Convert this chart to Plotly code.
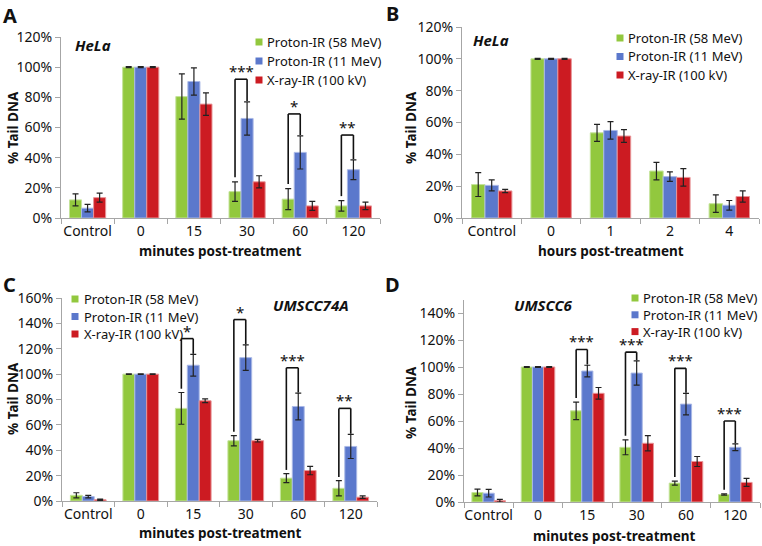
import plotly.graph_objects as go

# ---- data (% Tail DNA) ----
series_names = ["Proton-IR (58 MeV)", "Proton-IR (11 MeV)", "X-ray-IR (100 kV)"]
colors = ["#92c83e", "#5b78cc", "#cc1b22"]
edge_colors = ["#c4e39a", "#a9b8e6", "#e89497"]

min_cats = ["Control", "0", "15", "30", "60", "120"]
hour_cats = ["Control", "0", "1", "2", "4"]

# A: HeLa, minutes
a_green = [12, 100, 80.5, 17.5, 12.5, 8]
a_green_err = [4, 0.4, 15, 6.5, 7, 3.5]
a_blue = [6.5, 100, 90.5, 66, 43.5, 32]
a_blue_err = [2.5, 0.4, 9, 11, 11, 6.5]
a_red = [13.5, 100, 75.5, 24, 8, 8]
a_red_err = [3, 0.4, 7.5, 4, 3, 2.5]
a_sig = [(3, 92, "***"), (4, 69, "*"), (5, 55, "**")]

# B: HeLa, hours
b_green = [21, 100, 53.5, 29.5, 9]
b_green_err = [7.5, 0.3, 5.3, 5.5, 5.5]
b_blue = [20.5, 100, 55, 26, 8]
b_blue_err = [3.5, 0.3, 5.5, 3, 3]
b_red = [17, 100, 51.5, 25.5, 13.5]
b_red_err = [1, 0.3, 4, 5.5, 3.5]
b_sig = []

# C: UMSCC74A, minutes
c_green = [4.5, 100, 73, 47.5, 18, 10]
c_green_err = [2, 0.3, 12.5, 4, 3.5, 6]
c_blue = [3.5, 100, 107, 113, 74.5, 43]
c_blue_err = [1, 0.3, 8.5, 10, 10.5, 9.5]
c_red = [1, 100, 79, 47.5, 24, 3]
c_red_err = [0.5, 0.3, 1.5, 1, 3.3, 1]
c_sig = [(2, 128, "*"), (3, 143, "*"), (4, 105, "***"), (5, 73, "**")]

# D: UMSCC6, minutes
d_green = [7, 100, 67.5, 40.5, 14, 5.5]
d_green_err = [2.5, 0.3, 6.5, 5.5, 1.5, 0.5]
d_blue = [6.5, 100, 97, 95.5, 72.5, 40.5]
d_blue_err = [2.8, 0.3, 4.3, 9, 8, 2.5]
d_red = [1, 100, 80.5, 43.5, 30, 14.5]
d_red_err = [1, 0.3, 4.3, 5.7, 3.7, 3]
d_sig = [(2, 113, "***"), (3, 111, "***"), (4, 99, "***"), (5, 60, "***")]

W, H = 762, 546
FONT = "Noto Sans"
BARGAP = 0.32


def px(x):
    return x / W


def py(y):
    return 1 - y / H


def label(text, x, y, size, xanchor="center", angle=0):
    """Paper-positioned text, given in pixels from the top-left corner."""
    return dict(xref="paper", yref="paper", x=px(x), y=py(y), text=text, showarrow=False,
                xanchor=xanchor, yanchor="middle", textangle=angle,
                font=dict(family=FONT, size=size, color="#111"))


# legend placement per panel: marker centre x, text left x, first row y, row step (pixels)
panels = [
    dict(cats=min_cats, vals=[a_green, a_blue, a_red], errs=[a_green_err, a_blue_err, a_red_err], sig=a_sig,
         ymax=120, dom_x=[61, 380], dom_y=[218, 37], legend=(259, 265, 42, 19)),
    dict(cats=hour_cats, vals=[b_green, b_blue, b_red], errs=[b_green_err, b_blue_err, b_red_err], sig=b_sig,
         ymax=120, dom_x=[462, 759], dom_y=[218, 27], legend=(620, 626, 38, 18.5)),
    dict(cats=min_cats, vals=[c_green, c_blue, c_red], errs=[c_green_err, c_blue_err, c_red_err], sig=c_sig,
         ymax=160, dom_x=[62, 377], dom_y=[501, 298], legend=(75, 82, 299, 17.5)),
    dict(cats=min_cats, vals=[d_green, d_blue, d_red], errs=[d_green_err, d_blue_err, d_red_err], sig=d_sig,
         ymax=150, dom_x=[464, 760], dom_y=[502, 299.5], legend=(635, 641, 298, 16.8)),
]

fig = go.Figure()
layout = {}
shapes = []
annotations = []
w = (1 - BARGAP) / 3

for p_i, p in enumerate(panels):
    n = p_i + 1
    sfx = "" if n == 1 else str(n)
    xa, ya = "x" + sfx, "y" + sfx
    for s in range(3):
        fig.add_trace(go.Bar(
            x=p["cats"], y=p["vals"][s], name=series_names[s],
            marker=dict(color=colors[s], line=dict(color=edge_colors[s], width=1)),
            error_y=dict(type="data", array=p["errs"][s], color="#222222", thickness=1.2, width=3),
            xaxis=xa, yaxis=ya, showlegend=False,
        ))

    layout["xaxis" + sfx] = dict(
        domain=[px(p["dom_x"][0]), px(p["dom_x"][1])], anchor=ya, type="category",
        showline=True, linecolor="#a6a6a6", linewidth=1, ticks="outside", tickson="boundaries",
        ticklen=5, tickcolor="#a6a6a6", tickfont=dict(family=FONT, size=14, color="#111"),
        tickangle=0, automargin=False,
        showgrid=False, zeroline=False, range=[-0.5, len(p["cats"]) - 0.5],
    )
    layout["yaxis" + sfx] = dict(
        domain=[py(p["dom_y"][0]), py(p["dom_y"][1])], anchor=xa, range=[0, p["ymax"]],
        dtick=20, ticksuffix="%", showline=True, linecolor="#a6a6a6", linewidth=1,
        ticks="outside", ticklen=5, tickcolor="#a6a6a6", automargin=False,
        tickfont=dict(family=FONT, size=14, color="#111"), showgrid=False, zeroline=False,
    )

    # legend: small squares plus labels
    mx, tx, ly0, step = p["legend"]
    for s in range(3):
        yy = ly0 + s * step
        shapes.append(dict(type="rect", xref="paper", yref="paper",
                           x0=px(mx - 3.5), x1=px(mx + 3.5), y0=py(yy + 3.5), y1=py(yy - 3.5),
                           fillcolor=colors[s], line=dict(width=0)))
        annotations.append(label(series_names[s], tx, yy, 13, xanchor="left"))

    # significance brackets between 58 MeV and 11 MeV proton bars
    g, b = p["vals"][0], p["vals"][1]
    ge, be = p["errs"][0], p["errs"][1]
    for ci, top, stars in p["sig"]:
        xl, xr = ci - w, ci
        yl = g[ci] + ge[ci] + 3
        yr = b[ci] + be[ci] + 0.5
        for x0, y0, x1, y1 in [(xl, yl, xl, top), (xl, top, xr, top), (xr, top, xr, yr)]:
            shapes.append(dict(type="line", xref=xa, yref=ya, x0=x0, y0=y0, x1=x1, y1=y1,
                               line=dict(color="#111", width=1.6)))
        annotations.append(dict(xref=xa, yref=ya, x=(xl + xr) / 2, y=top, text=stars, showarrow=False,
                                xanchor="center", yanchor="bottom", yshift=-4,
                                font=dict(family=FONT, size=15, color="#111")))

# panel letters, cell lines, axis titles
for t, x, y in [("A", 10, 15), ("B", 392, 13), ("C", 9, 284), ("D", 392, 284)]:
    annotations.append(label("<b>" + t + "</b>", x, y, 20))

for t, x, y in [("HeLa", 93, 45), ("HeLa", 491, 40), ("UMSCC74A", 311, 305), ("UMSCC6", 543, 305)]:
    annotations.append(label("<b><i>" + t + "</i></b>", x, y, 15))

for t, x, y in [("minutes post-treatment", 220, 251), ("hours post-treatment", 611, 251),
                ("minutes post-treatment", 220, 533), ("minutes post-treatment", 614, 536)]:
    annotations.append(label("<b>" + t + "</b>", x, y, 13.5))

for x, y in [(13, 128), (411, 128), (13, 399), (411, 403)]:
    annotations.append(label("<b>% Tail DNA</b>", x, y, 13.5, angle=-90))

fig.update_layout(
    width=W, height=H, margin=dict(l=0, r=0, t=0, b=0),
    paper_bgcolor="white", plot_bgcolor="white", showlegend=False,
    barmode="group", bargap=BARGAP, bargroupgap=0,
    shapes=shapes, annotations=annotations, **layout,
)

# the page body has a default 8px margin; drop it so the figure sits at the window origin
fig.write_html("out.html", config=dict(displayModeBar=False),
               post_script="document.body.style.margin='0px';")
